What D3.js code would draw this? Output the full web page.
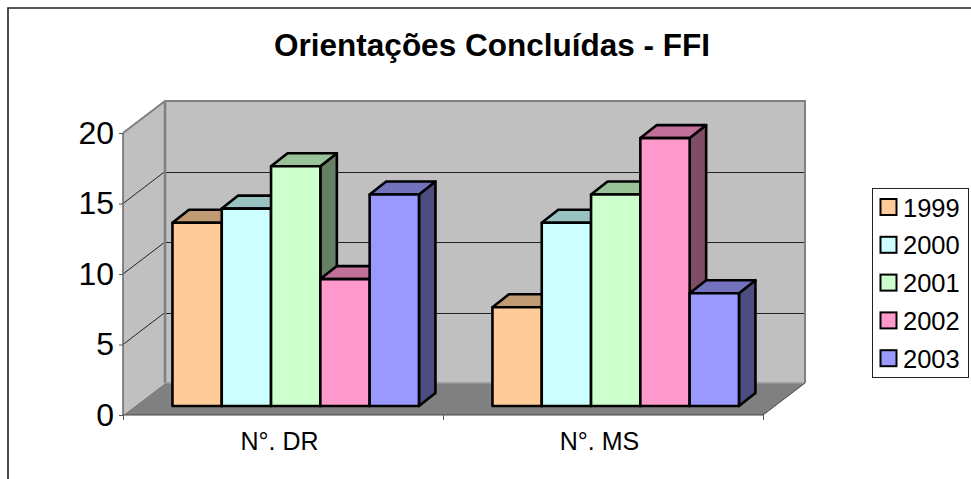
<!DOCTYPE html>
<meta charset="utf-8">
<style>
html, body { margin: 0; padding: 0; background: #fff; overflow: hidden; }
svg { display: block; font-family: "Liberation Sans", Arial, sans-serif; }
.y.axis path, .x.axis path { display: none; }
.y.axis line, .marks line { stroke: #555; stroke-width: 1; }
.grid line { stroke: #222; stroke-width: 1; shape-rendering: crispEdges; }
.bar path { stroke: #000; stroke-width: 2.6; stroke-linejoin: round; }
</style>
<body>
<script src="https://d3js.org/d3.v7.min.js"></script>
<script>
var chartTitle = "Orientações Concluídas - FFI";
var categories = ["N°. DR", "N°. MS"];
var years = ["1999", "2000", "2001", "2002", "2003"];
var dr = [13, 14, 17, 9, 15];
var ms = [7, 13, 15, 19, 8];
var yTicks = [0, 5, 10, 15, 20];
var colors = ["#FFCC99", "#CCFFFF", "#CCFFCC", "#FF99CC", "#9999FF"];
var topColors = ["#C09A73", "#99C2C2", "#99C299", "#C07099", "#7373BD"];
var sideColors = ["#806650", "#668080", "#668066", "#804D66", "#4D4D80"];

var width = 971, height = 479;

// front plane of the box
var x = d3.scaleBand().domain(categories).range([123, 763]);
var y = d3.scaleLinear().domain([0, 20]).range([415, 133]);
var xEdges = d3.scaleLinear().domain([0, 2]).range([123, 763]);

// oblique offsets for the fake 3d
var dx = 42, dy = -32;      // whole box depth
var barDx = 12.7, barDy = -9; // bar front plane
var depthX = 16.5, depthY = -13; // bar depth
var barW = 49.3;

var svg = d3.select("body").append("svg")
    .attr("width", width)
    .attr("height", height);

// outer chart frame, open on the right and bottom
svg.append("path")
    .attr("d", "M8," + height + "V8H" + width)
    .attr("fill", "none")
    .attr("stroke", "#222")
    .attr("stroke-width", 1.6);

svg.append("text")
    .attr("x", 492)
    .attr("y", 56)
    .attr("text-anchor", "middle")
    .attr("font-size", 31.5)
    .attr("font-weight", "bold")
    .text(chartTitle);

var x0 = x.range()[0], x1 = x.range()[1];
var y0 = y(0), y20 = y(20);

function poly(pts) { return "M" + pts.join("L") + "Z"; }

// floor
svg.append("path")
    .attr("d", poly([[x0, y0], [x0 + dx, y0 + dy], [x1 + dx, y0 + dy], [x1, y0]]))
    .attr("fill", "#808080");

// back wall
svg.append("path")
    .attr("d", poly([[x0 + dx, y20 + dy], [x1 + dx, y20 + dy], [x1 + dx, y0 + dy], [x0 + dx, y0 + dy]]))
    .attr("fill", "#C0C0C0");

// left wall
svg.append("path")
    .attr("d", poly([[x0, y20], [x0 + dx, y20 + dy], [x0 + dx, y0 + dy], [x0, y0]]))
    .attr("fill", "#C0C0C0");

// gridlines on both walls
var grid = svg.append("g").attr("class", "grid");
[5, 10, 15].forEach(function(v) {
    grid.append("line")
        .attr("x1", x0 + dx).attr("x2", x1 + dx)
        .attr("y1", Math.round(y(v) + dy) + 0.5).attr("y2", Math.round(y(v) + dy) + 0.5);
    grid.append("line")
        .attr("x1", x0).attr("x2", x0 + dx)
        .attr("y1", y(v)).attr("y2", y(v) + dy)
        .style("shape-rendering", "auto");
});

// wall borders
svg.append("path")
    .attr("d", "M" + x0 + "," + y20 + "L" + (x0 + dx) + "," + (y20 + dy) + "H" + (x1 + dx) + "V" + (y0 + dy))
    .attr("fill", "none").attr("stroke", "#808080").attr("stroke-width", 2);
svg.append("path")
    .attr("d", "M" + (x0 + dx) + "," + (y20 + dy) + "V" + (y0 + dy))
    .attr("fill", "none").attr("stroke", "#808080").attr("stroke-width", 2.5);
svg.append("path")
    .attr("d", "M" + (x0 + dx) + "," + (y0 + dy) + "H" + (x1 + dx))
    .attr("fill", "none").attr("stroke", "#9a9a9a").attr("stroke-width", 1.5);
svg.append("path")
    .attr("d", "M" + x0 + "," + y20 + "V" + y0)
    .attr("fill", "none").attr("stroke", "#666").attr("stroke-width", 1.5);
svg.append("path")
    .attr("d", "M" + x0 + "," + y0 + "H" + x1 + "L" + (x1 + dx) + "," + (y0 + dy))
    .attr("fill", "none").attr("stroke", "#444").attr("stroke-width", 1);

// bars, left to right so the nearer faces overlap
[dr, ms].forEach(function(vals, c) {
    var start = x(categories[c]) + x.bandwidth() / 2 + barDx - barW * years.length / 2;
    vals.forEach(function(v, i) {
        var bx = start + i * barW, bx2 = bx + barW;
        var by = y(v) + barDy, bb = y(0) + barDy;
        var g = svg.append("g").attr("class", "bar");
        g.append("path")
            .attr("d", poly([[bx2, by], [bx2 + depthX, by + depthY], [bx2 + depthX, bb + depthY], [bx2, bb]]))
            .attr("fill", sideColors[i]);
        g.append("path")
            .attr("d", poly([[bx, by], [bx + depthX, by + depthY], [bx2 + depthX, by + depthY], [bx2, by]]))
            .attr("fill", topColors[i]);
        g.append("path")
            .attr("d", poly([[bx, by], [bx2, by], [bx2, bb], [bx, bb]]))
            .attr("fill", colors[i]);
    });
});

// axes
var yAxis = svg.append("g")
    .attr("class", "y axis")
    .attr("transform", "translate(" + x0 + ",0)")
    .call(d3.axisLeft(y).tickValues(yTicks).tickSize(4).tickPadding(5));
yAxis.selectAll("text").attr("font-size", 32).attr("font-family", null).attr("fill", "#000");

svg.append("g")
    .attr("class", "marks")
    .attr("transform", "translate(0," + y0 + ")")
    .call(d3.axisBottom(xEdges).tickValues([0, 1, 2]).tickSize(5).tickFormat(""))
    .select("path").remove();

var xAxis = svg.append("g")
    .attr("class", "x axis")
    .attr("transform", "translate(-3.5," + y0 + ")")
    .call(d3.axisBottom(x).tickSize(0).tickPadding(17));
xAxis.selectAll("text").attr("font-size", 25).attr("font-family", null).attr("fill", "#000");

// legend
var legend = svg.append("g");
legend.append("rect")
    .attr("x", 872.5).attr("y", 188.5).attr("width", 96).attr("height", 189)
    .attr("fill", "#fff").attr("stroke", "#222").attr("stroke-width", 1);
years.forEach(function(yr, i) {
    var ly = 207.5 + i * 37.8;
    legend.append("rect")
        .attr("x", 880.5).attr("y", ly - 8.5).attr("width", 16).attr("height", 16)
        .attr("fill", colors[i]).attr("stroke", "#000").attr("stroke-width", 2);
    legend.append("text")
        .attr("x", 903).attr("y", ly + 9)
        .attr("font-size", 25.5)
        .text(yr);
});
</script>
</body>
